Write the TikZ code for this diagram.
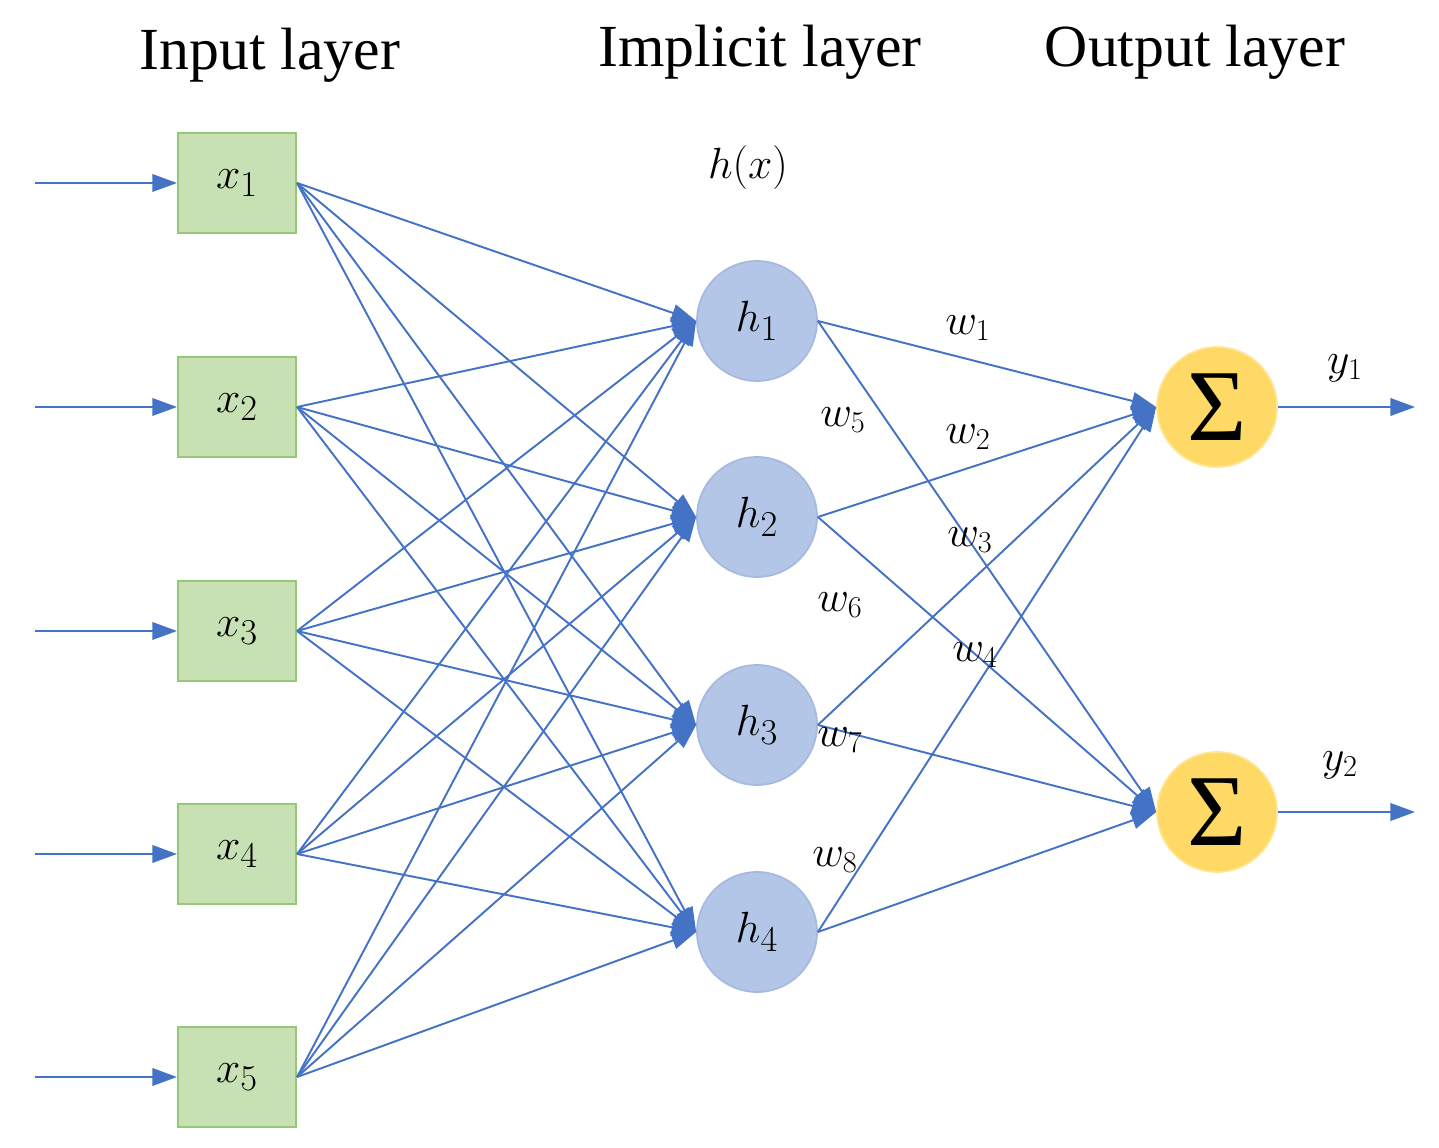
\documentclass[tikz,border=0pt]{standalone}
\usepackage{fontspec}
\setmainfont{Liberation Serif}
\usetikzlibrary{arrows.meta}
\begin{document}
\begin{tikzpicture}[x=0.02cm,y=-0.02cm,
  inbox/.style={draw={rgb,255:red,150;green,200;blue,120},line width=1.2pt,fill={rgb,255:red,200;green,225;blue,180},minimum width=2.36cm,minimum height=2cm,inner sep=0pt,font=\fontsize{30}{34}\selectfont},
  hid/.style={circle,draw={rgb,255:red,165;green,185;blue,225},line width=1pt,fill={rgb,255:red,180;green,198;blue,231},minimum size=2.4cm,inner sep=0pt,font=\fontsize{30}{34}\selectfont},
  sumnode/.style={circle,draw={rgb,255:red,255;green,230;blue,150},line width=1pt,fill={rgb,255:red,255;green,217;blue,102},minimum size=2.4cm,inner sep=0pt,font=\fontsize{58}{64}\selectfont},
  ed/.style={draw={rgb,255:red,68;green,114;blue,196},line width=1.1pt,-{Triangle[length=14pt,width=10pt]}},
  ttl/.style={font=\fontsize{34}{40}\selectfont},
  wl/.style={font=\fontsize{26}{30}\selectfont}]
\useasboundingbox (0,0) rectangle (1439,1148);
\foreach \i/\y in {1/183,2/407,3/631,4/854,5/1077}{
  \node[inbox] (x\i) at (237,\y) {$x_\i$};
  \coordinate (s\i) at (35,\y);
  \draw[ed] (s\i) -- (x\i);
}
\foreach \j/\y in {1/321,2/517,3/725,4/932}{
  \node[hid] (h\j) at (757,\y) {$h_\j$};
}
\node[sumnode] (o1) at (1217,407) {Σ};
\node[sumnode] (o2) at (1217,812) {Σ};
\coordinate (e1) at (1415,407);
\coordinate (e2) at (1415,812);
\foreach \i in {1,...,5}{\foreach \j in {1,...,4}{
  \draw[ed] (x\i.east) -- (h\j.west);
}}
\foreach \j in {1,...,4}{\foreach \k in {1,2}{
  \draw[ed] (h\j.east) -- (o\k.west);
}}
\draw[ed] (o1) -- (e1);
\draw[ed] (o2) -- (e2);
\node[ttl] (t1) at (270,55) {Input layer};
\node[ttl] (t2) at (760,52) {Implicit layer};
\node[ttl] (t3) at (1195,52) {Output layer};
\node[ttl] (hx) at (748,168) {$h(x)$};
\node[wl] at (968,328) {$w_1$};
\node[wl] at (843,420) {$w_5$};
\node[wl] at (968,437) {$w_2$};
\node[wl] at (970,540) {$w_3$};
\node[wl] at (840,605) {$w_6$};
\node[wl] at (975,655) {$w_4$};
\node[wl] at (840,740) {$w_7$};
\node[wl] at (835,860) {$w_8$};
\node[wl] at (1345,368) {$y_1$};
\node[wl] at (1340,765) {$y_2$};
\end{tikzpicture}
\end{document}
